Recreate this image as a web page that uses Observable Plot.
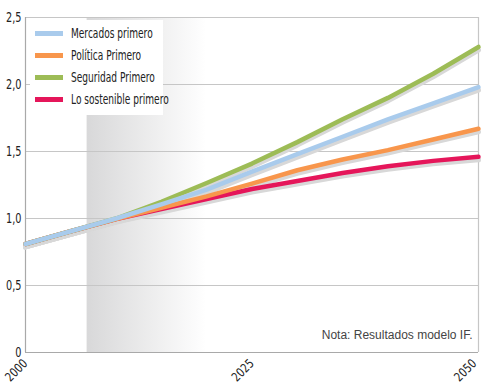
<!DOCTYPE html>
<html>
<head>
<meta charset="utf-8">
<script src="https://cdn.jsdelivr.net/npm/d3@7"></script>
<script src="https://cdn.jsdelivr.net/npm/@observablehq/plot@0.6"></script>
<style>
  html, body { margin: 0; padding: 0; background: #fff; }
  #wrap { position: relative; width: 485px; height: 385px; }
  #legend { position: absolute; left: 30px; top: 20px; width: 133px; height: 95px; background: #fff; }
  .item { position: absolute; left: 5px; height: 22px; }
  .sw { position: absolute; left: 0; width: 28px; height: 5px; top: -2.5px; }
  .lab { position: absolute; left: 36px; top: -9.5px; white-space: nowrap; font-family: 'DejaVu Sans', sans-serif; font-size: 13.5px; color: #222; line-height: 18px; transform: scaleX(0.67); transform-origin: 0 50%; }
</style>
</head>
<body>
<div id="wrap"><div id="legend"></div></div>
<script>
const years = [2000, 2005, 2010, 2015, 2020, 2025, 2030, 2035, 2040, 2045, 2050];
const mercados   = [0.81, 0.905, 1.0, 1.105, 1.215, 1.35, 1.48, 1.61, 1.74, 1.86, 1.98];
const politica   = [0.81, 0.905, 0.995, 1.08, 1.165, 1.26, 1.36, 1.44, 1.51, 1.59, 1.67];
const seguridad  = [0.81, 0.905, 1.0, 1.125, 1.265, 1.41, 1.57, 1.74, 1.90, 2.08, 2.28];
const sostenible = [0.81, 0.905, 0.995, 1.07, 1.145, 1.22, 1.28, 1.34, 1.39, 1.43, 1.46];
const seriesNames = ["Mercados primero", "Política Primero", "Seguridad Primero", "Lo sostenible primero"];
const seriesColors = ["#a9cbec", "#f8964c", "#9dbc56", "#e5165a"];
const xTicks = [2000, 2025, 2050];
const yTicks = [0, 0.5, 1, 1.5, 2, 2.5];
const shadeStart = 2006.8, shadeEnd = 2020;
const note = "Nota: Resultados modelo IF.";

const seriesValues = [mercados, politica, seguridad, sostenible];
const data = [];
seriesNames.forEach((name, i) => years.forEach((yr, j) => data.push({serie: name, year: yr, value: seriesValues[i][j], order: i})));
const drawOrder = [3, 1, 2, 0];

const chart = Plot.plot({
  width: 485, height: 385,
  marginLeft: 25, marginRight: 7, marginTop: 17, marginBottom: 33,
  style: {fontFamily: "'DejaVu Sans', sans-serif", fontSize: "13px", color: "#222", background: "transparent"},
  x: {domain: [2000, 2050], label: null},
  y: {domain: [0, 2.5], label: null},
  marks: [
    Plot.rect([{x1: shadeStart, x2: shadeEnd}], {x1: "x1", x2: "x2", y1: 0, y2: 2.5, fill: "url(#shade)"}),
    Plot.ruleY(yTicks.filter(d => d > 0), {stroke: "#c6c6c6", strokeWidth: 1}),
    Plot.ruleX([2050], {stroke: "#c6c6c6", strokeWidth: 1.2}),
    Plot.ruleX([2000], {stroke: "#a9a9a9", strokeWidth: 1.2}),
    Plot.ruleY([0], {stroke: "#a9a9a9", strokeWidth: 1.2}),
    Plot.axisY({ticks: yTicks, tickFormat: d => d === 0 ? "0" : d.toFixed(1).replace(".", ","), tickSize: 0, tickPadding: 4, label: null}),
    Plot.axisX({ticks: xTicks, tickFormat: d => String(d), tickRotate: -45, tickSize: 0, tickPadding: 4, dx: 0, dy: 5, label: null}),
    ...drawOrder.map(i => Plot.line(data.filter(d => d.order === i), {x: "year", y: "value", stroke: "#d8d8d8", strokeWidth: 5, dy: 3})),
    ...drawOrder.map(i => Plot.line(data.filter(d => d.order === i), {x: "year", y: "value", stroke: seriesColors[i], strokeWidth: 4.5})),
    Plot.text([note], {text: d => d, frameAnchor: "bottom-right", dx: -6, dy: -14, fill: "#444", fontSize: 12, fontFamily: "'Liberation Sans', Arial, sans-serif"})
  ]
});

const svg = d3.select(chart);
const grad = svg.insert("defs", ":first-child").append("linearGradient").attr("id", "shade").attr("x1", "0").attr("x2", "1").attr("y1", "0").attr("y2", "0");
grad.append("stop").attr("offset", "0").attr("stop-color", "#d8d8d9");
grad.append("stop").attr("offset", "1").attr("stop-color", "#ffffff");

document.getElementById("wrap").prepend(chart);

// condensed look for tick labels
svg.selectAll("g[aria-label='y-axis tick label'] text").each(function() {
  this.setAttribute("font-size", 13.5);
  const L = this.getComputedTextLength();
  this.setAttribute("textLength", L * 0.72);
  this.setAttribute("lengthAdjust", "spacingAndGlyphs");
});
const xLabels = svg.selectAll("g[aria-label='x-axis tick label'] text");
xLabels.each(function() {
  this.setAttribute("font-size", 12.5);
  const L = this.getComputedTextLength();
  this.setAttribute("textLength", L * 0.8);
  this.setAttribute("lengthAdjust", "spacingAndGlyphs");
});
// keep the last (2050) label inside the picture
const lastLabel = xLabels.nodes()[xLabels.size() - 1];
if (lastLabel) lastLabel.setAttribute("transform", lastLabel.getAttribute("transform").replace(/translate\(([-\d.]+),/, (m, x) => `translate(${+x - 4},`));

const legend = d3.select("#legend");
seriesNames.forEach((name, i) => {
  const it = legend.append("div").attr("class", "item").style("top", (13.3 + i * 22.2) + "px");
  it.append("div").attr("class", "sw").style("background", seriesColors[i]);
  it.append("div").attr("class", "lab").text(name);
});
</script>
</body>
</html>
